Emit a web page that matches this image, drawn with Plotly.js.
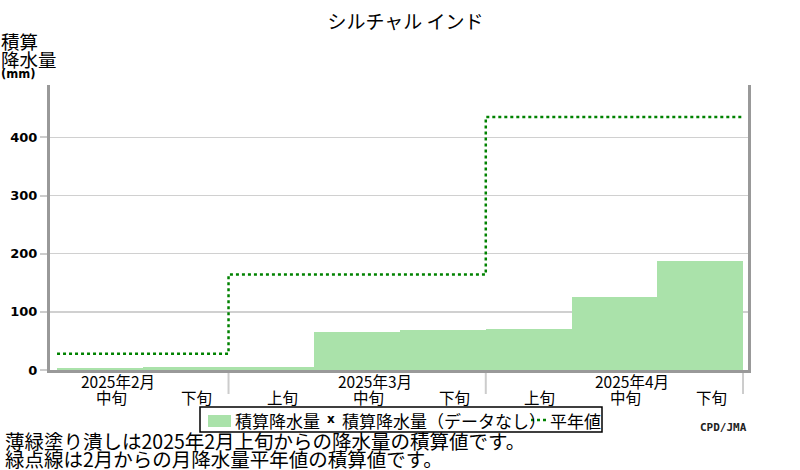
<!DOCTYPE html>
<html>
<head>
<meta charset="utf-8">
<script src="https://cdn.plot.ly/plotly-3.0.1.min.js"></script>
<style>body{margin:0;background:#fff}#chart{width:800px;height:470px}</style>
</head>
<body>
<div id="chart"></div>
<script>
// 旬ごとの積算降水量 (mm)  index 0 = 2025年2月上旬
var dekadNames = ['上旬', '中旬', '下旬'];
var months = ['2025年2月', '2025年3月', '2025年4月'];
var dekadIndex = [1, 2, 3, 4, 5, 6, 7, 8];
var accumRain = [4, 6, 6, 66, 68, 71, 125, 187];
// 月降水量平年値の積算値
var normalAccum = [28, 164, 435];
var legendNames = ['積算降水量', '積算降水量（データなし）', '平年値'];

var jp = '"Noto Sans CJK JP", sans-serif';
var barColor = 'rgb(170,226,170)';
var normColor = 'rgb(0,130,0)';

var trace1 = {
    x: dekadIndex,
    y: accumRain,
    type: 'bar',
    width: 1,
    name: legendNames[0],
    marker: {color: barColor, line: {width: 0}}
};

// 平年値は月の境界で段になる
var nx = [], ny = [];
for (var m = 0; m < months.length; m++) {
    nx.push(m === 0 ? 0.5 : m * 3 - 0.5);
    ny.push(normalAccum[m]);
}
nx.push(months.length * 3 - 0.5);
ny.push(normalAccum[normalAccum.length - 1]);

var trace2 = {
    x: nx,
    y: ny,
    type: 'scatter',
    mode: 'lines',
    line: {shape: 'hv', dash: 'dot', width: 2.5, color: normColor},
    name: legendNames[2]
};

var data = [trace1, trace2];

// ピクセル位置 -> paper 座標
function px(p) { return (p - 50) / 698; }
function py(p) { return (370 - p) / 285; }

function note(x, xref, y, text, font, xanchor) {
    return {x: x, y: py(y), xref: xref, yref: 'paper', xanchor: xanchor || 'center',
        yanchor: 'middle', showarrow: false, borderpad: 0, text: text, font: font};
}

var annotations = [];
var lab = {family: jp, size: 15.5, color: '#000'};
// 旬ラベル
for (var i = 1; i <= 8; i++) {
    annotations.push(note(i + 0.13, 'x', 397, dekadNames[i % 3], lab));
}
// 月ラベル
for (var m = 0; m < months.length; m++) {
    annotations.push(note(m * 3 + 1.21, 'x', 381, months[m], lab));
}
// 縦軸タイトル
var big = {family: jp, size: 18.5, color: '#000'};
annotations.push(note(px(0), 'paper', 41, '積算', big, 'left'));
annotations.push(note(px(0), 'paper', 59, '降水量', big, 'left'));
annotations.push(note(px(0), 'paper', 74, '<b>(mm)</b>', {family: 'DejaVu Sans', size: 11.5, color: '#000'}, 'left'));
// 注記
var foot = {family: jp, size: 19.5, color: '#000'};
annotations.push(note(px(4), 'paper', 441, '薄緑塗り潰しは2025年2月上旬からの降水量の積算値です。', foot, 'left'));
annotations.push(note(px(4), 'paper', 458, '緑点線は2月からの月降水量平年値の積算値です。', foot, 'left'));
annotations.push(note(1, 'paper', 427, '<b>CPD/JMA</b>', {family: 'DejaVu Sans Mono', size: 11, color: '#222'}, 'right'));

// 凡例（枠付き一行）
var leg = {family: jp, size: 17, color: '#000'};
annotations.push(note(px(234), 'paper', 420, legendNames[0], leg, 'left'));
annotations.push(note(px(331), 'paper', 419, '<b>x</b>', {family: 'DejaVu Sans', size: 12, color: '#000'}));
annotations.push(note(px(341), 'paper', 420, legendNames[1], leg, 'left'));
annotations.push(note(px(549), 'paper', 420, legendNames[2], leg, 'left'));

var shapes = [];
// 月の区切り
for (var m = 1; m <= months.length; m++) {
    shapes.push({type: 'line', xref: 'x', yref: 'paper', x0: m * 3 - 0.5, x1: m * 3 - 0.5,
        y0: py(373), y1: py(394), line: {color: '#ccc', width: 2}});
}
shapes.push({type: 'rect', xref: 'paper', yref: 'paper', x0: px(200), x1: px(602), y0: py(407), y1: py(432),
    line: {color: '#000', width: 1.5}, fillcolor: 'rgba(0,0,0,0)'});
shapes.push({type: 'rect', xref: 'paper', yref: 'paper', x0: px(208), x1: px(231), y0: py(415), y1: py(427),
    line: {width: 0}, fillcolor: barColor});
shapes.push({type: 'line', xref: 'paper', yref: 'paper', x0: px(531), x1: px(547), y0: py(420), y1: py(420),
    line: {color: normColor, width: 2.5, dash: 'dot'}});

var layout = {
    width: 800,
    height: 470,
    margin: {l: 50, r: 52, t: 85, b: 100},
    paper_bgcolor: '#fff',
    plot_bgcolor: '#fff',
    bargap: 0,
    showlegend: false,
    title: {text: 'シルチャル インド', x: 0.507, xref: 'container', y: 0.953, yref: 'container',
        yanchor: 'middle', font: {family: jp, size: 19, color: '#000'}},
    xaxis: {
        range: [0.418, 8.558],
        showgrid: false,
        zeroline: false,
        showticklabels: false,
        ticks: '',
        showline: true,
        linecolor: '#999',
        linewidth: 3,
        fixedrange: true
    },
    yaxis: {
        range: [0, 490],
        tickvals: [0, 100, 200, 300, 400],
        ticks: 'outside',
        ticklen: 7,
        tickcolor: '#ccc',
        tickwidth: 2,
        showgrid: true,
        gridcolor: '#d0d0d0',
        gridwidth: 1.5,
        zeroline: false,
        showline: true,
        mirror: true,
        linecolor: '#999',
        linewidth: 3,
        tickfont: {family: 'DejaVu Sans', size: 13, color: '#000', weight: 'bold'},
        fixedrange: true
    },
    annotations: annotations,
    shapes: shapes
};

Plotly.newPlot('chart', data, layout, {staticPlot: true});
</script>
</body>
</html>
